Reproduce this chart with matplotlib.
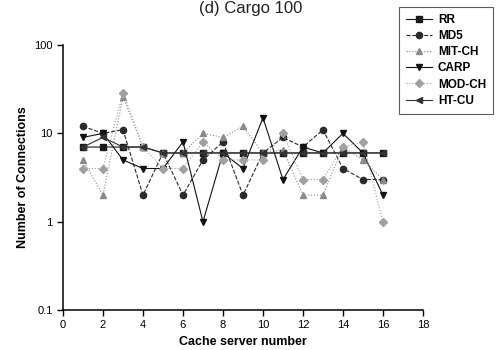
import matplotlib.pyplot as plt
import matplotlib.ticker as mticker

plt.rcParams['font.family'] = ['Liberation Sans', 'DejaVu Sans']

# Connections per cache server, one list per balancing scheme
servers = list(range(1, 17))
rr = [7, 7, 7, 7, 6, 6, 6, 6, 6, 6, 6, 6, 6, 6, 6, 6]
md5 = [12, 10, 11, 2, 6, 2, 5, 8, 2, 6, 9, 7, 11, 4, 3, 3]
mit_ch = [5, 2, 26, 7, 6, 6, 10, 9, 12, 6, 6.5, 2, 2, 7, 5, 3]
carp = [9, 10, 5, 4, 4, 8, 1, 6, 4, 15, 3, 7, 6, 10, 6, 2]
mod_ch = [4, 4, 29, 7, 4, 4, 8, 5, 5, 5, 10, 3, 3, 7, 8, 1]
ht_cu = [7, 9, 7, 7, 6, 6, 6, 6, 6, 6, 6, 6, 6, 6, 6, 6]

fig = plt.figure(figsize=(5.02, 3.5), dpi=100)
ax = fig.add_axes([0.1255, 0.1143, 0.717, 0.757])

styles = [
    ("RR", rr, 's', '-', '#1a1a1a', 4.5),
    ("MD5", md5, 'o', '--', '#2a2a2a', 4.5),
    ("MIT-CH", mit_ch, '^', ':', '#8a8a8a', 4.5),
    ("CARP", carp, 'v', '-', '#111111', 5),
    ("MOD-CH", mod_ch, 'D', ':', '#a0a0a0', 3.8),
    ("HT-CU", ht_cu, '<', '-', '#333333', 4.5),
]
for name, vals, mk, ls, col, ms in styles:
    ax.plot(servers, vals, marker=mk, linestyle=ls, color=col, linewidth=0.8,
            markersize=ms, label=name)

ax.set_yscale('log')
ax.set_ylim(0.1, 100)
ax.set_xlim(0, 18)
ax.set_xticks(range(0, 19, 2))
ax.set_yticks([0.1, 1, 10, 100])
ax.yaxis.set_major_formatter(mticker.FuncFormatter(lambda v, p: f"{v:g}"))
ax.yaxis.set_minor_locator(mticker.NullLocator())
ax.tick_params(direction='out', length=4, width=1, labelsize=8)
for s in ['top', 'right']:
    ax.spines[s].set_visible(False)
for s in ['left', 'bottom']:
    ax.spines[s].set_linewidth(1.1)

ax.set_xlabel("Cache server number", fontsize=9, fontweight='bold')
ax.set_ylabel("Number of Connections", fontsize=9, fontweight='bold')

fig.text(0.5, 0.998, "(d) Cargo 100", ha='center', va='top', fontsize=12,
         color='#222222')

leg = fig.legend(loc='upper left', bbox_to_anchor=(0.783, 0.997),
                 prop={'weight': 'bold', 'size': 8.5}, frameon=True,
                 fancybox=False, edgecolor='#333333', handlelength=2.2,
                 labelspacing=0.35, borderpad=0.6, handletextpad=0.5)
leg.get_frame().set_linewidth(0.8)

fig.savefig("out.png", dpi=100)
